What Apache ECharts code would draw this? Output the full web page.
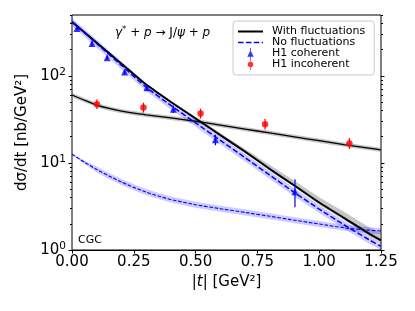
<!DOCTYPE html>
<html><head><meta charset="utf-8">
<script src="https://cdn.jsdelivr.net/npm/echarts@6/dist/echarts.min.js"></script>
<style>html,body{margin:0;padding:0;background:#fff}#c{width:415px;height:311px}</style>
</head><body><div id="c"></div>
<script>
// ---- data ----
const tCoh = [0, 0.1, 0.2, 0.3, 0.4, 0.5, 0.6, 0.7, 0.8, 0.9, 1.0, 1.1, 1.2, 1.25];
const cohFluct    = [417, 240, 138, 79.4, 50.1, 32.4, 20.9, 13.5, 8.51, 5.50, 3.51, 2.34, 1.55, 1.29];
const cohFluctHi  = [427, 245, 141, 81.7, 51.8, 33.9, 22.1, 14.5, 9.44, 6.24, 4.03, 2.75, 1.84, 1.57];
const cohFluctLo  = [407, 234, 135, 77.6, 49.0, 31.6, 20.2, 13.0, 8.13, 5.25, 3.31, 2.21, 1.46, 1.22];
const cohNoFluct   = [417, 234, 132, 74.1, 45.7, 28.8, 18.2, 11.5, 7.24, 4.57, 2.95, 1.95, 1.32, 1.10];
const cohNoFluctHi = [462, 260, 146, 82.2, 50.7, 32.0, 20.2, 12.7, 8.04, 5.07, 3.27, 2.16, 1.46, 1.22];
const cohNoFluctLo = [376, 211, 119, 66.8, 41.2, 26.0, 16.4, 10.4, 6.53, 4.12, 2.66, 1.76, 1.19, 1.00];

const tInc = [0, 0.05, 0.1, 0.15, 0.2, 0.25, 0.3, 0.35, 0.4, 0.5, 0.6, 0.7, 0.8, 0.9, 1.0, 1.1, 1.2, 1.25];
const incFluct   = [60.3, 52.5, 46.2, 42.2, 39.4, 37.3, 35.7, 34.3, 32.9, 30.1, 27.2, 24.5, 22.1, 19.95, 17.99, 16.22, 14.79, 14.13];
const incFluctHi = [63.9, 55.6, 48.9, 44.7, 41.7, 39.5, 37.8, 36.3, 34.8, 31.9, 28.8, 25.9, 23.4, 21.1, 19.05, 17.18, 15.66, 14.96];
const incFluctLo = [56.9, 49.6, 43.6, 39.8, 37.2, 35.2, 33.7, 32.4, 31.1, 28.4, 25.7, 23.1, 20.9, 18.83, 16.98, 15.31, 13.96, 13.34];
const incNoFluct   = [12.59, 10.21, 8.41, 7.06, 6.03, 5.24, 4.62, 4.16, 3.80, 3.31, 2.98, 2.70, 2.44, 2.20, 1.99, 1.80, 1.69, 1.65];
const incNoFluctHi = [12.9, 10.69, 9.12, 7.65, 6.54, 5.68, 5.01, 4.51, 4.12, 3.59, 3.23, 2.93, 2.64, 2.38, 2.16, 1.95, 1.83, 1.79];
const incNoFluctLo = [12.3, 9.75, 7.76, 6.52, 5.57, 4.84, 4.26, 3.84, 3.51, 3.06, 2.75, 2.49, 2.25, 2.03, 1.84, 1.66, 1.56, 1.52];

const h1CohT  = [0.020, 0.081, 0.142, 0.213, 0.303, 0.41, 0.58, 0.902];
const h1Coh   = [350, 235, 161, 111, 72.8, 41.4, 18.4, 4.68];
const h1CohLo = [335, 222, 152, 104, 67, 37.5, 16, 3.1];
const h1CohHi = [365, 248, 170, 118, 79, 45.5, 21, 6.5];

const h1IncT  = [0.101, 0.289, 0.52, 0.781, 1.122];
const h1Inc   = [47.3, 43.2, 36.9, 27.9, 16.7];
const h1IncLo = [41.5, 37.9, 32.4, 24.2, 14.5];
const h1IncHi = [53.9, 49.2, 42.0, 32.2, 19.3];

const yMajorTicks = [1, 10, 100];
const yMinorTicks = [2,3,4,5,6,7,8,9,20,30,40,50,60,70,80,90,200,300,400,500];

// ---- chart ----
const FONT = 'DejaVu Sans';
const zip = (a, b) => a.map((v, i) => [v, b[i]]);

function band(name, ts, lo, hi, color, z) {
  return {
    type: 'custom', name: name, silent: true, z: z,
    data: [[ts[0], hi[0]]],
    renderItem: function (params, api) {
      const pts = [];
      for (let i = 0; i < ts.length; i++) pts.push(api.coord([ts[i], hi[i]]));
      for (let i = ts.length - 1; i >= 0; i--) pts.push(api.coord([ts[i], lo[i]]));
      return { type: 'polygon', shape: { points: pts }, style: { fill: color, stroke: null } };
    }
  };
}
function errBars(name, ts, lo, hi, color) {
  return {
    type: 'custom', name: name, silent: true, z: 8,
    data: ts.map((t, i) => [t, lo[i], hi[i]]),
    encode: { x: 0, y: [1, 2] },
    renderItem: function (params, api) {
      const a = api.coord([api.value(0), api.value(1)]);
      const b = api.coord([api.value(0), api.value(2)]);
      return { type: 'line', shape: { x1: a[0], y1: a[1], x2: b[0], y2: b[1] }, style: { stroke: color, lineWidth: 1.2 } };
    }
  };
}

function yAx(position, ticks, len, labels, extra) {
  return Object.assign({
    type: 'log', logBase: 10, min: 1, max: 500, position: position,
    axisLine: { show: false },
    splitLine: { show: false },
    axisTick: { show: true, inside: false, length: len, customValues: ticks, lineStyle: { color: '#000', width: 1 } },
    axisLabel: labels ? {
      show: true, customValues: yMajorTicks, margin: 6,
      formatter: function (v) { return '{b|10}{s|' + Math.round(Math.log10(v)) + '}'; },
      rich: {
        b: { fontSize: 15, fontFamily: FONT, color: '#000' },
        s: { fontSize: 10.5, fontFamily: FONT, color: '#000', padding: [0, 0, 8, 0] }
      }
    } : { show: false }
  }, extra || {});
}

const solidIcon = 'path://M0,0 L25,0 L25,2 L0,2 Z';
const dashIcon = 'path://M0,0 L5.5,0 L5.5,1.5 L0,1.5 Z M7.9,0 L13.4,0 L13.4,1.5 L7.9,1.5 Z M15.8,0 L21.3,0 L21.3,1.5 L15.8,1.5 Z M23.7,0 L25,0 L25,1.5 L23.7,1.5 Z';
const triIcon = 'path://M3.1,0 L3.9,0 L3.9,12 L3.1,12 Z M3.5,2.5 L7,9.5 L0,9.5 Z';
const dotIcon = 'path://M3.1,0 L3.9,0 L3.9,12 L3.1,12 Z M3.5,3 A3,3 0 1,1 3.5,9 A3,3 0 1,1 3.5,3 Z';

const chart = echarts.init(document.getElementById('c'), null, { renderer: 'canvas' });
chart.setOption({
  animation: false,
  backgroundColor: '#fff',
  textStyle: { fontFamily: FONT },
  grid: { left: 72, right: 34, top: 15, bottom: 61, show: true, borderColor: '#000', borderWidth: 1, backgroundColor: 'transparent', outerBoundsMode: 'none' },
  title: {
    left: 110, top: 20,
    text: '{i|γ}{s|*}{n| + }{i|p}{n| → J/}{i|ψ}{n| + }{i|p}',
    textStyle: {
      fontWeight: 'normal',
      rich: {
        i: { fontSize: 12, fontStyle: 'italic', fontWeight: 'normal', fontFamily: FONT, color: '#000' },
        n: { fontSize: 12, fontWeight: 'normal', fontFamily: FONT, color: '#000' },
        s: { fontSize: 8.5, fontWeight: 'normal', fontFamily: FONT, color: '#000', padding: [0, 0, 6, 0] }
      }
    }
  },
  legend: {
    orient: 'vertical', left: 233, top: 21,
    padding: [5, 9, 5, 5], itemGap: 0, itemWidth: 25, itemHeight: 11,
    backgroundColor: 'rgba(255,255,255,0.8)', borderColor: '#cccccc', borderWidth: 1, borderRadius: 3,
    itemStyle: { borderWidth: 0 },
    textStyle: { fontSize: 11, lineHeight: 11, fontFamily: FONT, color: '#000', padding: [0, 0, 0, 4] },
    data: [
      { name: 'With fluctuations', icon: solidIcon },
      { name: 'No fluctuations', icon: dashIcon },
      { name: 'H1 coherent', icon: triIcon },
      { name: 'H1 incoherent', icon: dotIcon }
    ]
  },
  graphic: [{ type: 'text', left: 78, top: 235, style: { text: 'CGC', fontSize: 11, fontFamily: FONT, fill: '#000' }, z: 20 }],
  xAxis: {
    type: 'value', min: 0, max: 1.25, interval: 0.25,
    name: '|{i|t}| [GeV²]', nameLocation: 'middle', nameGap: 16,
    nameTextStyle: { fontSize: 15, fontFamily: FONT, color: '#000', rich: { i: { fontSize: 15, fontStyle: 'italic', fontFamily: FONT, color: '#000' } } },
    axisLine: { show: true, lineStyle: { color: '#000', width: 1 } },
    axisTick: { show: true, length: 3.5, lineStyle: { color: '#000', width: 1 } },
    splitLine: { show: false },
    axisLabel: { fontSize: 15, fontFamily: FONT, color: '#000', margin: 5, formatter: v => v.toFixed(2), showMinLabel: true, showMaxLabel: true }
  },
  yAxis: [
    yAx('left', yMajorTicks, 3.5, true, {
      name: 'dσ/dt [nb/GeV²]', nameLocation: 'middle', nameGap: 31,
      nameTextStyle: { fontSize: 15, fontFamily: FONT, color: '#000' }
    }),
    yAx('left', yMinorTicks, 2, false),
    yAx('right', yMajorTicks, 3.5, false),
    yAx('right', yMinorTicks, 2, false)
  ],
  series: [
    band('bandIncFluct', tInc, incFluctLo, incFluctHi, 'rgba(128,128,128,0.45)', 1),
    band('bandCohFluct', tCoh, cohFluctLo, cohFluctHi, 'rgba(128,128,128,0.45)', 1),
    band('bandIncNo', tInc, incNoFluctLo, incNoFluctHi, 'rgba(0,0,255,0.2)', 1),
    band('bandCohNo', tCoh, cohNoFluctLo, cohNoFluctHi, 'rgba(0,0,255,0.2)', 1),
    { type: 'line', name: 'Incoherent with fluctuations', data: zip(tInc, incFluct), symbol: 'none', z: 4, smooth: 0.2,
      lineStyle: { color: '#000', width: 1.3 }, itemStyle: { color: '#000' } },
    { type: 'line', name: 'Incoherent no fluctuations', data: zip(tInc, incNoFluct), symbol: 'none', z: 4, smooth: 0.2,
      lineStyle: { color: '#0000ff', width: 1.1, type: [3.7, 1.6] }, itemStyle: { color: '#0000ff' } },
    { type: 'line', name: 'With fluctuations', data: zip(tCoh, cohFluct), symbol: 'none', z: 5, smooth: 0.2,
      lineStyle: { color: '#000', width: 2 }, itemStyle: { color: '#000' } },
    { type: 'line', name: 'No fluctuations', data: zip(tCoh, cohNoFluct), symbol: 'none', z: 5, smooth: 0.2,
      lineStyle: { color: '#0000ff', width: 1.5, type: [5.5, 2.4] }, itemStyle: { color: '#0000ff' } },
    errBars('errCoh', h1CohT, h1CohLo, h1CohHi, '#0000ff'),
    errBars('errInc', h1IncT, h1IncLo, h1IncHi, '#ff0000'),
    { type: 'scatter', name: 'H1 coherent', data: zip(h1CohT, h1Coh), symbol: 'triangle', symbolSize: 7, z: 9,
      itemStyle: { color: '#0000ff' } },
    { type: 'scatter', name: 'H1 incoherent', data: zip(h1IncT, h1Inc), symbol: 'circle', symbolSize: 6.5, z: 9,
      itemStyle: { color: '#ff0000' } }
  ]
});
</script>
</body></html>
